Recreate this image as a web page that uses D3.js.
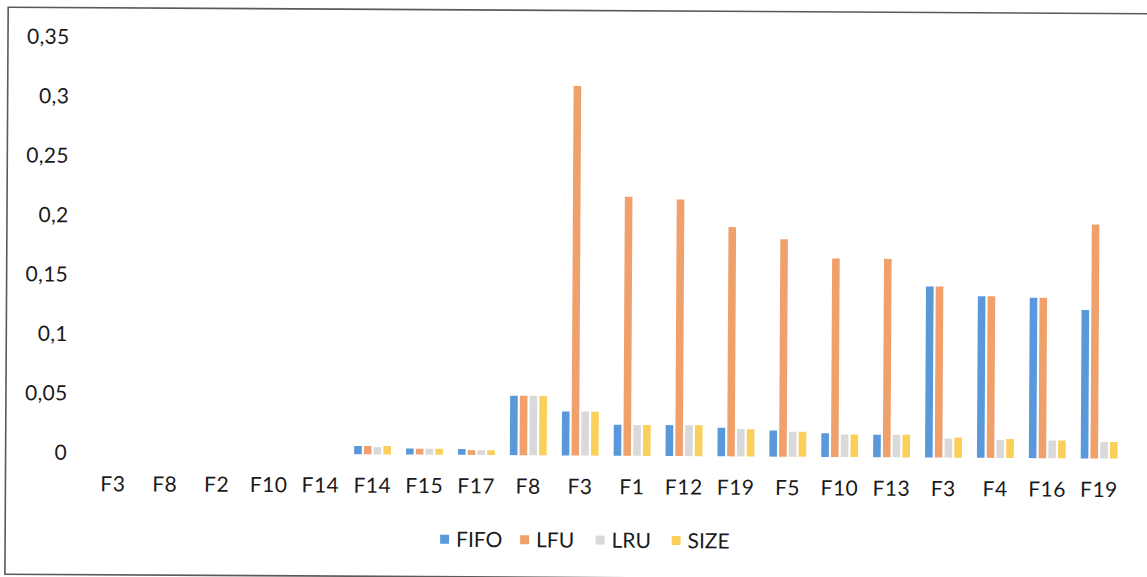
<!DOCTYPE html>
<html>
<head>
<meta charset="utf-8">
<script src="https://cdn.jsdelivr.net/npm/d3@7"></script>
<style>
  html, body { margin: 0; padding: 0; background: #fff; }
  svg { display: block; }
  text { font-family: Lato, "Open Sans", sans-serif; fill: #1a1a1a; }
</style>
</head>
<body>
<svg id="chart" width="1147" height="577"></svg>
<script>
// Categories along the x axis (labels repeat, so bars are keyed by position)
const categories = ["F3", "F8", "F2", "F10", "F14", "F14", "F15", "F17", "F8", "F3",
                    "F1", "F12", "F19", "F5", "F10", "F13", "F3", "F4", "F16", "F19"];

// Replacement policies drawn side by side in each group
const seriesNames = ["FIFO", "LFU", "LRU", "SIZE"];

const fifo = [0, 0, 0, 0, 0, 0.007, 0.005, 0.005, 0.05, 0.037,
              0.026, 0.026, 0.024, 0.022, 0.020, 0.019, 0.144, 0.136, 0.135, 0.125];
const lfu  = [0, 0, 0, 0, 0, 0.007, 0.005, 0.004, 0.05, 0.311,
              0.218, 0.216, 0.193, 0.183, 0.167, 0.167, 0.144, 0.136, 0.135, 0.197];
const lru  = [0, 0, 0, 0, 0, 0.006, 0.005, 0.004, 0.05, 0.037,
              0.026, 0.026, 0.023, 0.021, 0.019, 0.019, 0.016, 0.015, 0.015, 0.014];
const size = [0, 0, 0, 0, 0, 0.007, 0.005, 0.004, 0.05, 0.037,
              0.026, 0.026, 0.023, 0.021, 0.019, 0.019, 0.017, 0.016, 0.015, 0.014];

const yTicks = [0, 0.05, 0.1, 0.15, 0.2, 0.25, 0.3, 0.35];

const seriesValues = [fifo, lfu, lru, size];
const colors = ["#5a98dc", "#f0a06b", "#d9d9d9", "#fbd05a"];

const svg = d3.select("#chart");
// the whole sheet sits at a very slight clockwise tilt
const root = svg.append("g").attr("transform", "rotate(0.33 577 300)");

// outer frame of the chart area
root.append("rect")
  .attr("x", 6.5).attr("y", 10.5)
  .attr("width", 1160).attr("height", 567)
  .attr("fill", "none")
  .attr("stroke", "#5a5a5a")
  .attr("stroke-width", 1.6);

const x = d3.scaleBand()
  .domain(d3.range(categories.length))
  .range([88, 1126])
  .paddingInner(0.29)
  .paddingOuter(0.145);

const xInner = d3.scaleBand()
  .domain(seriesNames)
  .range([0, x.bandwidth()])
  .paddingInner(0.22);

const y = d3.scaleLinear()
  .domain([0, 0.35])
  .range([455.5, 39.7]);

const locale = d3.formatLocale({ decimal: ",", thousands: " ", grouping: [3], currency: ["", " €"] });
const fmt = locale.format("~f");

// y axis: labels only
const yAxis = root.append("g")
  .attr("transform", "translate(68,0)")
  .call(d3.axisLeft(y).tickValues(yTicks).tickFormat(fmt).tickSize(0).tickPadding(0));
yAxis.select(".domain").remove();
yAxis.selectAll("text")
  .style("font-family", "Lato, 'Open Sans', sans-serif")
  .style("font-size", "21px")
  .style("letter-spacing", "0.3px")
  .attr("fill", "#1a1a1a");

// x axis: labels only
const xAxis = root.append("g")
  .attr("transform", "translate(0,479)")
  .call(d3.axisBottom(x).tickFormat(i => categories[i]).tickSize(0).tickPadding(0));
xAxis.select(".domain").remove();
xAxis.selectAll("text")
  .attr("dy", "0.71em")
  .style("font-family", "Lato, 'Open Sans', sans-serif")
  .style("font-size", "21px")
  .style("letter-spacing", "0.5px")
  .attr("fill", "#1a1a1a");

// bars
const groups = root.append("g").selectAll("g")
  .data(categories.map((c, i) => i))
  .join("g")
  .attr("transform", i => `translate(${x(i)},0)`);

groups.selectAll("rect")
  .data(i => seriesNames.map((s, k) => ({ s, k, v: seriesValues[k][i] })))
  .join("rect")
  .attr("x", d => xInner(d.s))
  .attr("width", xInner.bandwidth())
  .attr("y", d => y(d.v))
  .attr("height", d => y(0) - y(d.v))
  .attr("fill", d => colors[d.k]);

// legend
const legendItems = [
  { name: "FIFO", x: 441.5 },
  { name: "LFU", x: 521.5 },
  { name: "LRU", x: 597 },
  { name: "SIZE", x: 673 }
];
const legend = root.append("g").attr("transform", "translate(0,540)");
const li = legend.selectAll("g")
  .data(legendItems)
  .join("g")
  .attr("transform", d => `translate(${d.x},0)`);
li.append("rect")
  .attr("x", 0).attr("y", -4.5)
  .attr("width", 9).attr("height", 9)
  .attr("fill", (d, i) => colors[i]);
li.append("text")
  .attr("x", 16)
  .attr("dy", "0.36em")
  .style("font-size", "21px")
  .text(d => d.name);
</script>
</body>
</html>
